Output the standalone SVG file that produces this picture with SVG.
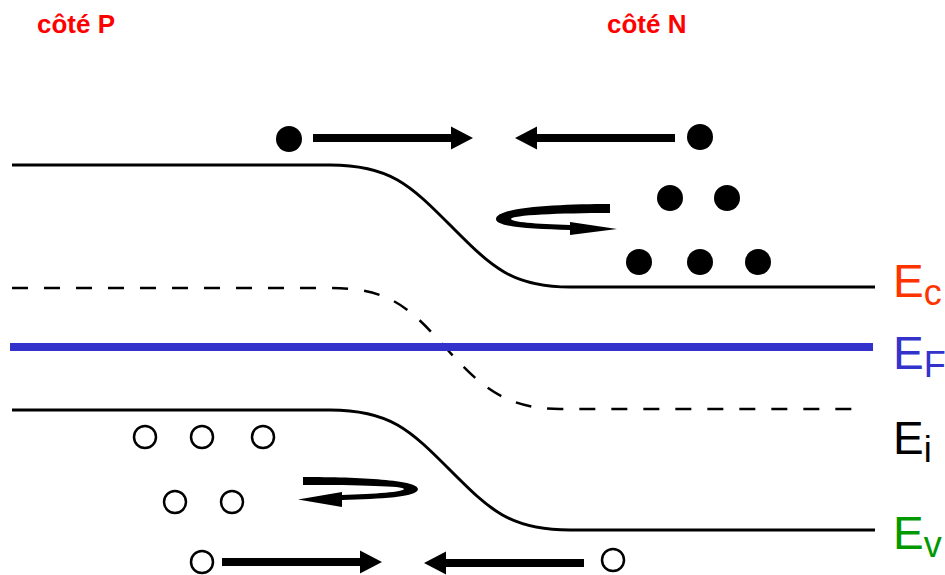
<svg xmlns="http://www.w3.org/2000/svg" width="945" height="575" viewBox="0 0 945 575">
<style>
.band{fill:none;stroke:#000;stroke-width:3}
.ei{fill:none;stroke:#000;stroke-width:2.5;stroke-dasharray:16 16}
.ef{fill:none;stroke:#3333cc;stroke-width:8}
.e{fill:#000}
.h{fill:#fff;stroke:#000;stroke-width:2.5}
.lbl{font-family:"Liberation Sans",Arial,sans-serif;font-weight:bold;font-size:26px;fill:#ff0000}
.en{font-family:"Liberation Sans",Arial,sans-serif;font-size:46px}
.sub{font-size:36px}
</style>
<defs>
<path id="arr" d="M0,-4 H138 V-11.5 L160,0 L138,11.5 V4 H0 Z" fill="#000"/>
</defs>
<rect width="945" height="575" fill="#fff"/>
<g id="labels">
<text class="lbl" x="37" y="33">côté P</text>
<text class="lbl" x="607" y="33">côté N</text>
</g>
<g id="bands">
<path id="Ec-line" class="band" d="M12,165 H330 C390,165 410,185 450,225 C490,265 510,287 570,287 H875"/>
<path id="Ei-line" class="ei" d="M12,288 H330 C390,288 410,308 445,347 C480,386 505,409 560,409 H860"/>
<path id="EF-line" class="ef" d="M10,347 H873"/>
<path id="Ev-line" class="band" d="M12,410 H330 C390,410 410,430 450,470 C490,510 510,530 570,530 H875"/>
</g>
<g id="electrons">
<circle class="e" cx="289" cy="139" r="13"/>
<circle class="e" cx="700" cy="137" r="13"/>
<circle class="e" cx="670" cy="198" r="13"/>
<circle class="e" cx="727" cy="198" r="13"/>
<circle class="e" cx="639" cy="262" r="13"/>
<circle class="e" cx="700" cy="262" r="13"/>
<circle class="e" cx="758" cy="262" r="13"/>
</g>
<g id="holes">
<circle class="h" cx="145" cy="437" r="11"/>
<circle class="h" cx="202" cy="437" r="11"/>
<circle class="h" cx="263" cy="437" r="11"/>
<circle class="h" cx="175" cy="502" r="11"/>
<circle class="h" cx="232" cy="502" r="11"/>
<circle class="h" cx="202" cy="562" r="11"/>
<circle class="h" cx="613" cy="560" r="11"/>
</g>
<g id="connectors">
<use href="#arr" transform="translate(313,138)"/>
<use href="#arr" transform="translate(675,138) scale(-1,1)"/>
<use href="#arr" transform="translate(222,562)"/>
<use href="#arr" transform="translate(584,563) scale(-1,1)"/>
<path fill="#000" d="M610,204 C560,204 496,207 496,219 C496,227 530,229 570,230 L570,235 L617,229 L570,222 L570,225 C535,224 511,222 511,219 C511,215 560,213 610,213 Z"/>
<path fill="#000" d="M303,477 C360,477 418,480 418,489 C418,497 380,499 342,500 L342,507 L298,499.5 L342,492 L342,495 C375,494 404,492 404,489 C404,486 360,485 303,485 Z"/>
</g>
<g id="energy-labels">
<text class="en" x="893" y="297" fill="#ff3300">E<tspan class="sub" dy="8">c</tspan></text>
<text class="en" x="893" y="369" fill="#3333cc">E<tspan class="sub" dy="8">F</tspan></text>
<text class="en" x="893" y="454" fill="#000">E<tspan class="sub" dy="8">i</tspan></text>
<text class="en" x="893" y="549" fill="#009900">E<tspan class="sub" dy="8">v</tspan></text>
</g>
</svg>
